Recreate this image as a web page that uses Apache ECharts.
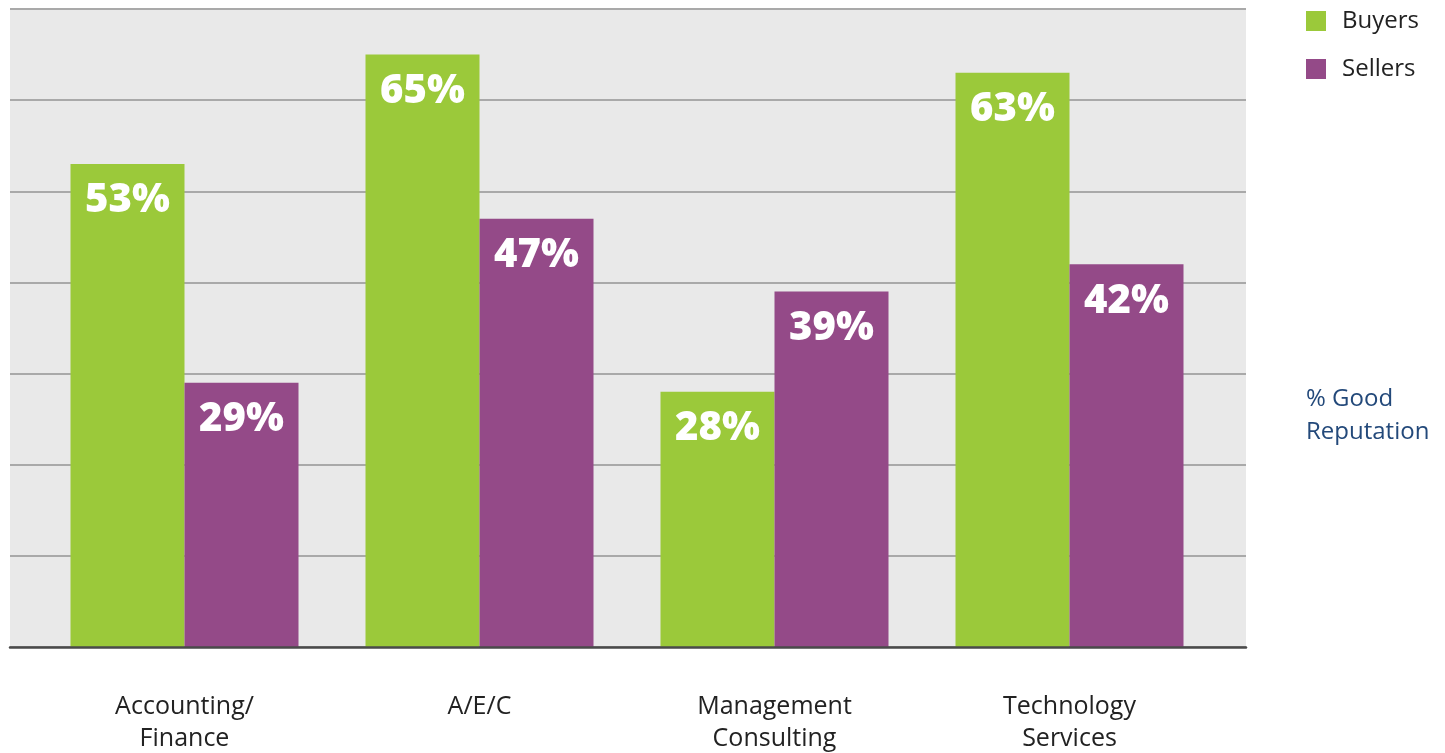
<!DOCTYPE html>
<html>
<head>
<meta charset="utf-8">
<script src="https://cdn.jsdelivr.net/npm/echarts@6/dist/echarts.min.js"></script>
<style>
  html, body { margin: 0; padding: 0; background: #ffffff; }
  #chart { width: 1445px; height: 753px; }
</style>
</head>
<body>
<div id="chart"></div>
<script>
// Share of firms rated as having a good reputation, by industry
const categories = ['Accounting/\nFinance', 'A/E/C', 'Management\nConsulting', 'Technology\nServices'];
const buyers = [53, 65, 28, 63];
const sellers = [29, 47, 39, 42];
const seriesNames = ['Buyers', 'Sellers'];
const sideNote = '% Good\nReputation';

const chart = echarts.init(document.getElementById('chart'), null, { renderer: 'canvas' });

const barLabel = {
  show: true,
  position: ['50%', 37],
  align: 'center',
  verticalAlign: 'middle',
  color: '#ffffff',
  fontFamily: '"Open Sans", "Liberation Sans", sans-serif',
  fontWeight: 800,
  fontSize: 40,
  formatter: p => p.value + '%'
};

chart.setOption({
  animation: false,
  backgroundColor: '#ffffff',
  title: {
    text: sideNote,
    left: 1306,
    top: 383,
    padding: 0,
    textStyle: {
      color: '#23497a',
      fontFamily: '"Open Sans", sans-serif',
      fontWeight: 'normal',
      fontSize: 24,
      lineHeight: 33
    }
  },
  legend: {
    data: seriesNames,
    orient: 'vertical',
    left: 1306,
    top: 9,
    padding: 0,
    itemWidth: 20,
    itemHeight: 20,
    itemGap: 24,
    icon: 'rect',
    textStyle: {
      color: '#222222',
      fontFamily: '"Open Sans", sans-serif',
      fontSize: 24,
      padding: [0, 0, 0, 11]
    }
  },
  grid: [
    // panel with background and gridlines
    { left: 10, top: 9, width: 1236, height: 638, show: true, backgroundColor: '#e9e9e9', borderWidth: 0, outerBoundsMode: 'none' },
    // bars
    { left: 37, top: 9, width: 1180, height: 638, outerBoundsMode: 'none' }
  ],
  xAxis: [
    {
      gridIndex: 0, type: 'value', min: 0, max: 1, z: 5,
      axisLine: { show: true, lineStyle: { color: '#4a4a4a', width: 2.5 } },
      axisTick: { show: false }, axisLabel: { show: false }, splitLine: { show: false }
    },
    {
      gridIndex: 1, type: 'category', data: categories,
      axisLine: { show: false }, axisTick: { show: false },
      axisLabel: {
        margin: 44,
        color: '#222222',
        fontFamily: '"Open Sans", sans-serif',
        fontSize: 25,
        lineHeight: 32,
        align: 'center'
      }
    }
  ],
  yAxis: [
    {
      gridIndex: 0, type: 'value', min: 0, max: 70, interval: 10,
      axisLine: { show: false }, axisTick: { show: false }, axisLabel: { show: false },
      splitLine: { show: true, lineStyle: { color: '#a9a9a9', width: 2 } }
    },
    {
      gridIndex: 1, type: 'value', min: 0, max: 70, interval: 10,
      axisLine: { show: false }, axisTick: { show: false }, axisLabel: { show: false },
      splitLine: { show: false }
    }
  ],
  series: [
    {
      name: seriesNames[0], type: 'bar', xAxisIndex: 1, yAxisIndex: 1,
      data: buyers, barWidth: 114, barGap: '0%',
      itemStyle: { color: '#9bc93a' },
      label: barLabel
    },
    {
      name: seriesNames[1], type: 'bar', xAxisIndex: 1, yAxisIndex: 1,
      data: sellers, barWidth: 114, barGap: '0%',
      itemStyle: { color: '#944a88' },
      label: barLabel
    }
  ]
});
</script>
</body>
</html>
